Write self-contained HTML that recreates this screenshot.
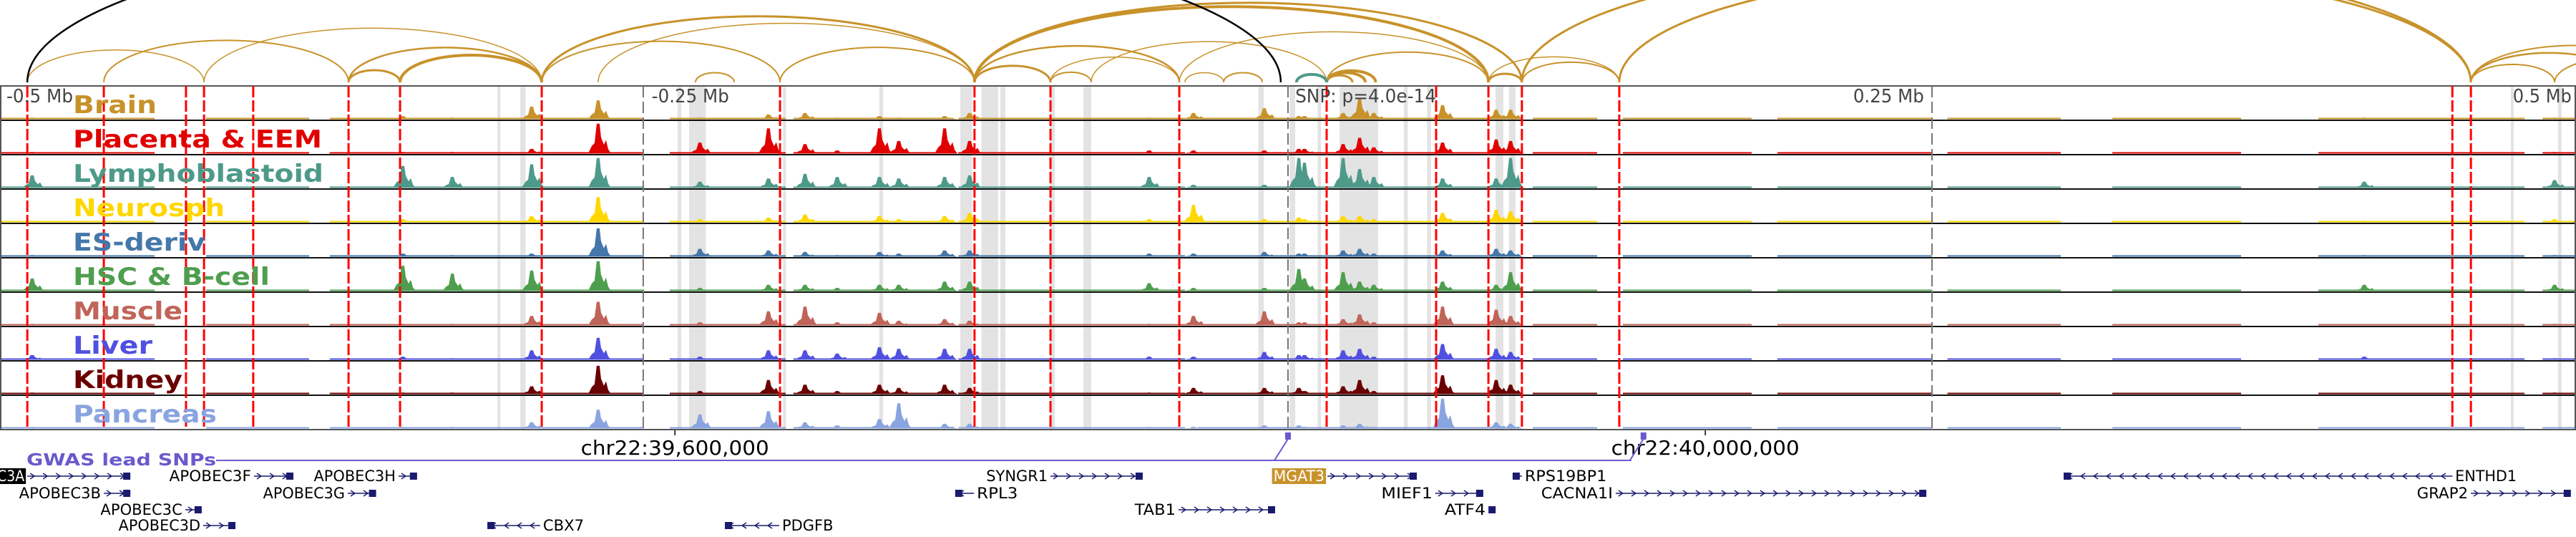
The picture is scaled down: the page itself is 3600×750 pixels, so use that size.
<!DOCTYPE html>
<html><head><meta charset="utf-8"><style>
html,body{margin:0;padding:0;background:#fff;overflow:hidden;}
svg{display:block;}
text{font-family:"DejaVu Sans","Liberation Sans",sans-serif;font-stretch:condensed;}
</style></head><body>
<svg id="chart" width="3600" height="750" viewBox="0 0 3600 750" xmlns="http://www.w3.org/2000/svg">
<g id="arcs"></g>
<g id="bands"></g>
<g id="tracks"></g>
<g id="vlines"></g>
<g id="labels"></g>
<g id="axis"></g>
<g id="gwas"></g>
<g id="genes"></g>
</svg>
<script>
// ---- data (genomic offsets in kb relative to lead SNP) ----
const trackNames = ["Brain","Placenta & EEM","Lymphoblastoid","Neurosph","ES-deriv","HSC & B-cell","Muscle","Liver","Kidney","Pancreas"];
const trackColors = ["#c8922a","#e00000","#4e9a8a","#ffd700","#4477aa","#4e9e4e","#c0645a","#5050e0","#6b0000","#8aa4e0"];
const peakKb = [-487.5,-343.6,-324.4,-293.6,-267.8,-228.3,-201.7,-187.5,-175,-158.6,-151.1,-133.3,-123.6,-53.9,-36.7,-9.2,4.2,6.4,21.4,27.8,33.3,60,80.8,86.4,417.8,491.7];
const hBrain = [.05,.1,.05,.4,.6,.05,.15,.2,.05,.1,.05,.1,.2,.05,.2,.35,.1,.1,.2,.65,.2,.45,.3,.3,.05,.05];
const hPlacenta = [.05,.05,.05,.15,.95,.35,.8,.3,.1,.8,.4,.8,.4,.1,.1,.1,.15,.15,.3,.5,.2,.35,.45,.4,.03,.05];
const hLympho = [.4,.7,.35,.75,.95,.2,.3,.45,.35,.35,.3,.35,.4,.35,.1,.1,.95,.8,.95,.6,.35,.3,.3,.95,.2,.25];
const hNeuro = [.05,.1,.05,.2,.8,.1,.15,.25,.05,.2,.1,.2,.3,.1,.55,.1,.15,.1,.2,.2,.1,.3,.4,.35,.05,.1];
const hES = [.05,.1,.05,.1,.9,.25,.2,.15,.05,.15,.1,.2,.2,.1,.1,.15,.1,.1,.2,.25,.1,.2,.25,.2,.05,.05];
const hHSC = [.4,.8,.55,.65,.95,.1,.2,.2,.1,.2,.2,.3,.3,.25,.1,.1,.7,.4,.6,.3,.2,.3,.2,.6,.2,.2];
const hMuscle = [.05,.05,.05,.3,.75,.1,.45,.6,.1,.4,.15,.2,.15,.05,.3,.45,.1,.1,.2,.35,.1,.6,.5,.3,.03,.05];
const hLiver = [.15,.1,.05,.3,.7,.1,.3,.3,.2,.4,.35,.35,.35,.1,.1,.25,.15,.15,.3,.35,.1,.5,.35,.25,.1,.05];
const hKidney = [.05,.05,.05,.25,.9,.1,.45,.3,.1,.3,.2,.3,.2,.05,.2,.2,.2,.1,.25,.45,.1,.6,.45,.3,.03,.05];
const hPancreas = [.05,.05,.05,.2,.6,.45,.55,.2,.1,.3,.8,.15,.15,.05,.05,.1,.1,.05,.1,.15,.05,.95,.2,.15,.03,.03];
const coverageKb = [[-500,-440],[-420,-380],[-372,-250],[-240,-195],[-192,-130],[-128,-40],[-35,90],[95,120],[130,180],[190,250],[256,300],[320,370],[400,480],[487,500]];
const redLinesKb = [-489.4,-459.7,-427.8,-420.8,-401.7,-364.7,-344.7,-289.7,-197.2,-121.7,-92.2,-42.2,15,57.5,77.8,90.8,128.6,452,459.2];
const grayLinesKb = [-250.3,0,250];
const bandsKb = [[-306.9,-305.8],[-298,-296],[-237,-235.5],[-232.5,-226],[-196,-195],[-119,-112.5],[-111.7,-109.7],[-92.5,-90.5],[-158.6,-157.2],[-127.2,-123],[-124,-122.6],[-79.4,-76.4],[-11.5,-9.4],[0.6,2.8],[11.5,12.8],[20,35],[45,46.5],[54,55.5],[80.6,83.6],[85.8,88.3],[474.7,475.8],[493,494.4]];
const arcPairsKb = [[-489.4,-420.8],[-459.7,-364.7],[-420.8,-289.7],[-364.7,-344.7],[-364.7,-289.7],[-344.7,-289.7],[-344.7,-289.7],[-289.7,-197.2],[-289.7,-121.7],[-267.8,-121.7],[-197.2,-121.7],[-121.7,-92.2],[-121.7,-42.2],[-121.7,77.8],[-121.7,90.8],[-92.2,-76.4],[-92.2,-42.2],[-76.4,15],[15,34],[15,30],[15,25],[15,77.8],[-42.2,77.8],[77.8,90.8],[90.8,128.6],[77.8,128.6],[90.8,459.2],[128.6,459.2],[459.2,491.7],[459.2,520],[459.2,540],[491.7,540],[-230,-215],[-25,-10],[-40,-25]];
const arcWeights = [1.5,2,1.5,3,2.5,4,3,2,3,1.5,2,3,2.5,4,3,2,1.5,1.5,4,4,3,2,1.5,3,2,1.5,3,3,2,2.5,2,2,2,2,1.5];
const blackArcKb = [[-489.4,-2.8]];
const genes = [
 {n:"APOBEC3A",s:-489.4,e:-449.4,r:0,d:1,l:"none"},
 {n:"APOBEC3F",s:-401.4,e:-386.1,r:0,d:1,l:"left"},
 {n:"APOBEC3H",s:-345.3,e:-338.1,r:0,d:1,l:"left"},
 {n:"SYNGR1",s:-92.2,e:-56.4,r:0,d:1,l:"left"},
 {n:"MGAT3",s:15.3,e:50,r:0,d:1,l:"left",hl:1},
 {n:"RPS19BP1",s:87.2,e:90.8,r:0,d:-1,l:"right"},
 {n:"ENTHD1",s:301.1,e:452,r:0,d:-1,l:"right"},
 {n:"APOBEC3B",s:-459.7,e:-449.4,r:1,d:1,l:"left"},
 {n:"APOBEC3G",s:-365,e:-354,r:1,d:1,l:"left"},
 {n:"RPL3",s:-129.2,e:-121.9,r:1,d:-1,l:"right"},
 {n:"MIEF1",s:57.2,e:75.8,r:1,d:1,l:"left"},
 {n:"CACNA1I",s:127.2,e:247.8,r:1,d:1,l:"left"},
 {n:"GRAP2",s:459.2,e:498,r:1,d:1,l:"left"},
 {n:"APOBEC3C",s:-428.1,e:-421.7,r:2,d:1,l:"left"},
 {n:"TAB1",s:-42.5,e:-5,r:2,d:1,l:"left"},
 {n:"ATF4",s:77.8,e:80.6,r:2,d:1,l:"left"},
 {n:"APOBEC3D",s:-421.1,e:-408.6,r:3,d:1,l:"left"},
 {n:"CBX7",s:-310.8,e:-290.3,r:3,d:-1,l:"right"},
 {n:"PDGFB",s:-218.6,e:-197.5,r:3,d:-1,l:"right"}
];
const tickLabels = ["-0.5 Mb","-0.25 Mb","SNP: p=4.0e-14","0.25 Mb","0.5 Mb"];
const tickLabelKb = [-497.5,-247,2.8,219.4,475.5];
const chromLabels = ["chr22:39,600,000","chr22:40,000,000"];
const chromKb = [-238,162];
const gwasKb = [0,138];

// ---- scales ----
const NS="http://www.w3.org/2000/svg";
const X = kb => 1800 + kb*3.6;
const TOP=120, TH=48, NT=10;
function mk(tag,attrs,parent){const el=document.createElementNS(NS,tag);for(const k in attrs)el.setAttribute(k,attrs[k]);parent.appendChild(el);return el;}
const heights=[hBrain,hPlacenta,hLympho,hNeuro,hES,hHSC,hMuscle,hLiver,hKidney,hPancreas];

// arcs
const gA=document.getElementById('arcs');
const BASE=115;
function arc(a,b,col,w){const x1=X(a),x2=X(b);const span=x2-x1;const rx=span/2,ry=0.567*Math.pow(span,0.795);
 return mk('path',{d:`M${x1},${BASE} A${rx},${ry} 0 0 1 ${x2},${BASE}`,fill:'none',stroke:col,'stroke-width':w},gA);}
arcPairsKb.forEach((p,i)=>{const el=arc(p[0],p[1],'#c8922a',arcWeights[i]);
 
 });
blackArcKb.forEach(p=>{const el=arc(p[0],p[1],'#000',2.5);
 
 });
{const el=arc(3.3,15,'#4e9a8a',4);
 
 }
mk('rect',{x:0,y:TOP-4,width:3600,height:4,fill:'#fff'},gA);

// bands
const gB=document.getElementById('bands');
bandsKb.forEach(b=>{const el=mk('rect',{x:X(b[0]),y:TOP,width:Math.max(4,X(b[1])-X(b[0])),height:TH*NT,fill:'#e3e3e3'},gB);
 
 });

// tracks
const gT=document.getElementById('tracks');
for(let t=0;t<NT;t++){
 const g=mk('g',{},gT);
 
 
 const base=TOP+(t+1)*TH-1.5, col=trackColors[t];
 coverageKb.forEach(c=>{mk('rect',{x:X(c[0]),y:base-2,width:X(c[1])-X(c[0]),height:2,fill:col},g);});
 peakKb.forEach((k,i)=>{const x=X(k),h=heights[t][i]*(TH-4);
  const el=mk('polygon',{points:`${x-14},${base} ${x-9},${base-0.25*h} ${x-5},${base-0.35*h} ${x-2},${base-h} ${x+2},${base-h} ${x+4},${base-0.55*h} ${x+8},${base-0.3*h} ${x+11},${base-0.45*h} ${x+14},${base-0.15*h} ${x+18},${base}`,fill:col},g);
  
  });
 mk('line',{x1:0,x2:3600,y1:TOP+(t+1)*TH,y2:TOP+(t+1)*TH,stroke:t==NT-1?'#777':'#111','stroke-width':2},g);
}
mk('rect',{x:1,y:TOP,width:3598,height:TH*NT,fill:'none',stroke:'#555','stroke-width':2},gT);

// vertical lines
const gV=document.getElementById('vlines');
redLinesKb.forEach(k=>{const el=mk('line',{x1:X(k),x2:X(k),y1:TOP,y2:TOP+TH*NT,stroke:'#ff0000','stroke-width':3,'stroke-dasharray':'16,4'},gV);
 
 });
grayLinesKb.forEach(k=>{const el=mk('line',{x1:X(k),x2:X(k),y1:TOP,y2:TOP+TH*NT,stroke:'#777','stroke-width':2,'stroke-dasharray':'16,6'},gV);
 
 });

// labels
const gL=document.getElementById('labels');
const labW=[117,348,350,212,185,275,153,111,153,201];
trackNames.forEach((n,t)=>{const el=mk('text',{x:102,y:TOP+t*TH+38,'font-size':34,'font-weight':'bold',fill:trackColors[t],textLength:labW[t],lengthAdjust:'spacingAndGlyphs'},gL);
 el.textContent=n;
 
 });

// axis text
const gX=document.getElementById('axis');
const tlW=[93,108,197,99,82];
tickLabels.forEach((s,i)=>{const el=mk('text',{x:X(tickLabelKb[i]),y:143,'font-size':26,fill:'#444',textLength:tlW[i],lengthAdjust:'spacingAndGlyphs'},gX);
 el.textContent=s;
 
 });
chromLabels.forEach((s,i)=>{const x=X(chromKb[i]);
 mk('line',{x1:x,x2:x,y1:601,y2:608,stroke:'#000','stroke-width':1.5},gX);
 const el=mk('text',{x:x,y:635,'font-size':28,'text-anchor':'middle',fill:'#000',textLength:263,lengthAdjust:'spacingAndGlyphs'},gX);
 el.textContent=s;
 
 });

// GWAS
const gG=document.getElementById('gwas');
const GY=643;
const gl=mk('text',{x:37,y:650,'font-size':23,'font-weight':'bold',fill:'#6a5acd',textLength:265,lengthAdjust:'spacingAndGlyphs'},gG);
gl.textContent="GWAS lead SNPs";


mk('line',{x1:302,x2:X(gwasKb[1])-17,y1:GY,y2:GY,stroke:'#6a5acd','stroke-width':2},gG);
gwasKb.forEach(k=>{const x=X(k);
 mk('line',{x1:x-19,y1:GY,x2:x,y2:613,stroke:'#6a5acd','stroke-width':2},gG);
 const el=mk('rect',{x:x-4,y:604,width:8,height:10,fill:'#6a5acd'},gG);
 
 });

// genes
const gN=document.getElementById('genes');
const rowY=[665,689,712,734];
genes.forEach(g=>{const grp=mk('g',{},gN);
 
 
 const x1=X(g.s),x2=X(g.e),y=rowY[g.r],c='#1a1a6e';
 mk('line',{x1:x1,x2:x2,y1:y,y2:y,stroke:c,'stroke-width':1.5},grp);
 for(let x=x1+8;x<x2-6;x+=18){const d=g.d>0?`M${x-4},${y-4} L${x+2},${y} L${x-4},${y+4}`:`M${x+4},${y-4} L${x-2},${y} L${x+4},${y+4}`;
  mk('path',{d:d,fill:'none',stroke:c,'stroke-width':1.4},grp);}
 const bx=g.d>0?x2-10:x1; mk('rect',{x:bx,y:y-5,width:10,height:10,fill:c},grp);
 const w=g.n.length*14.3;
 if(g.l==='left'){
  if(g.hl) mk('rect',{x:x1-w-6,y:y-11,width:w+4,height:22,fill:'#c8922a'},grp);
  const t=mk('text',{x:x1-4,y:y+7,'font-size':21,'text-anchor':'end',fill:g.hl?'#fff':'#000',textLength:w,lengthAdjust:'spacingAndGlyphs'},grp);t.textContent=g.n;
 } else if(g.l==='right'){
  const t=mk('text',{x:x2+4,y:y+7,'font-size':21,fill:'#000',textLength:w,lengthAdjust:'spacingAndGlyphs'},grp);t.textContent=g.n;
 } else {
  mk('rect',{x:0,y:y-11,width:x1-2,height:22,fill:'#000'},grp);
  const t=mk('text',{x:x1-4,y:y+7,'font-size':21,'text-anchor':'end',fill:'#fff'},grp);t.textContent="C3A";
 }
});
</script>
</body></html>
